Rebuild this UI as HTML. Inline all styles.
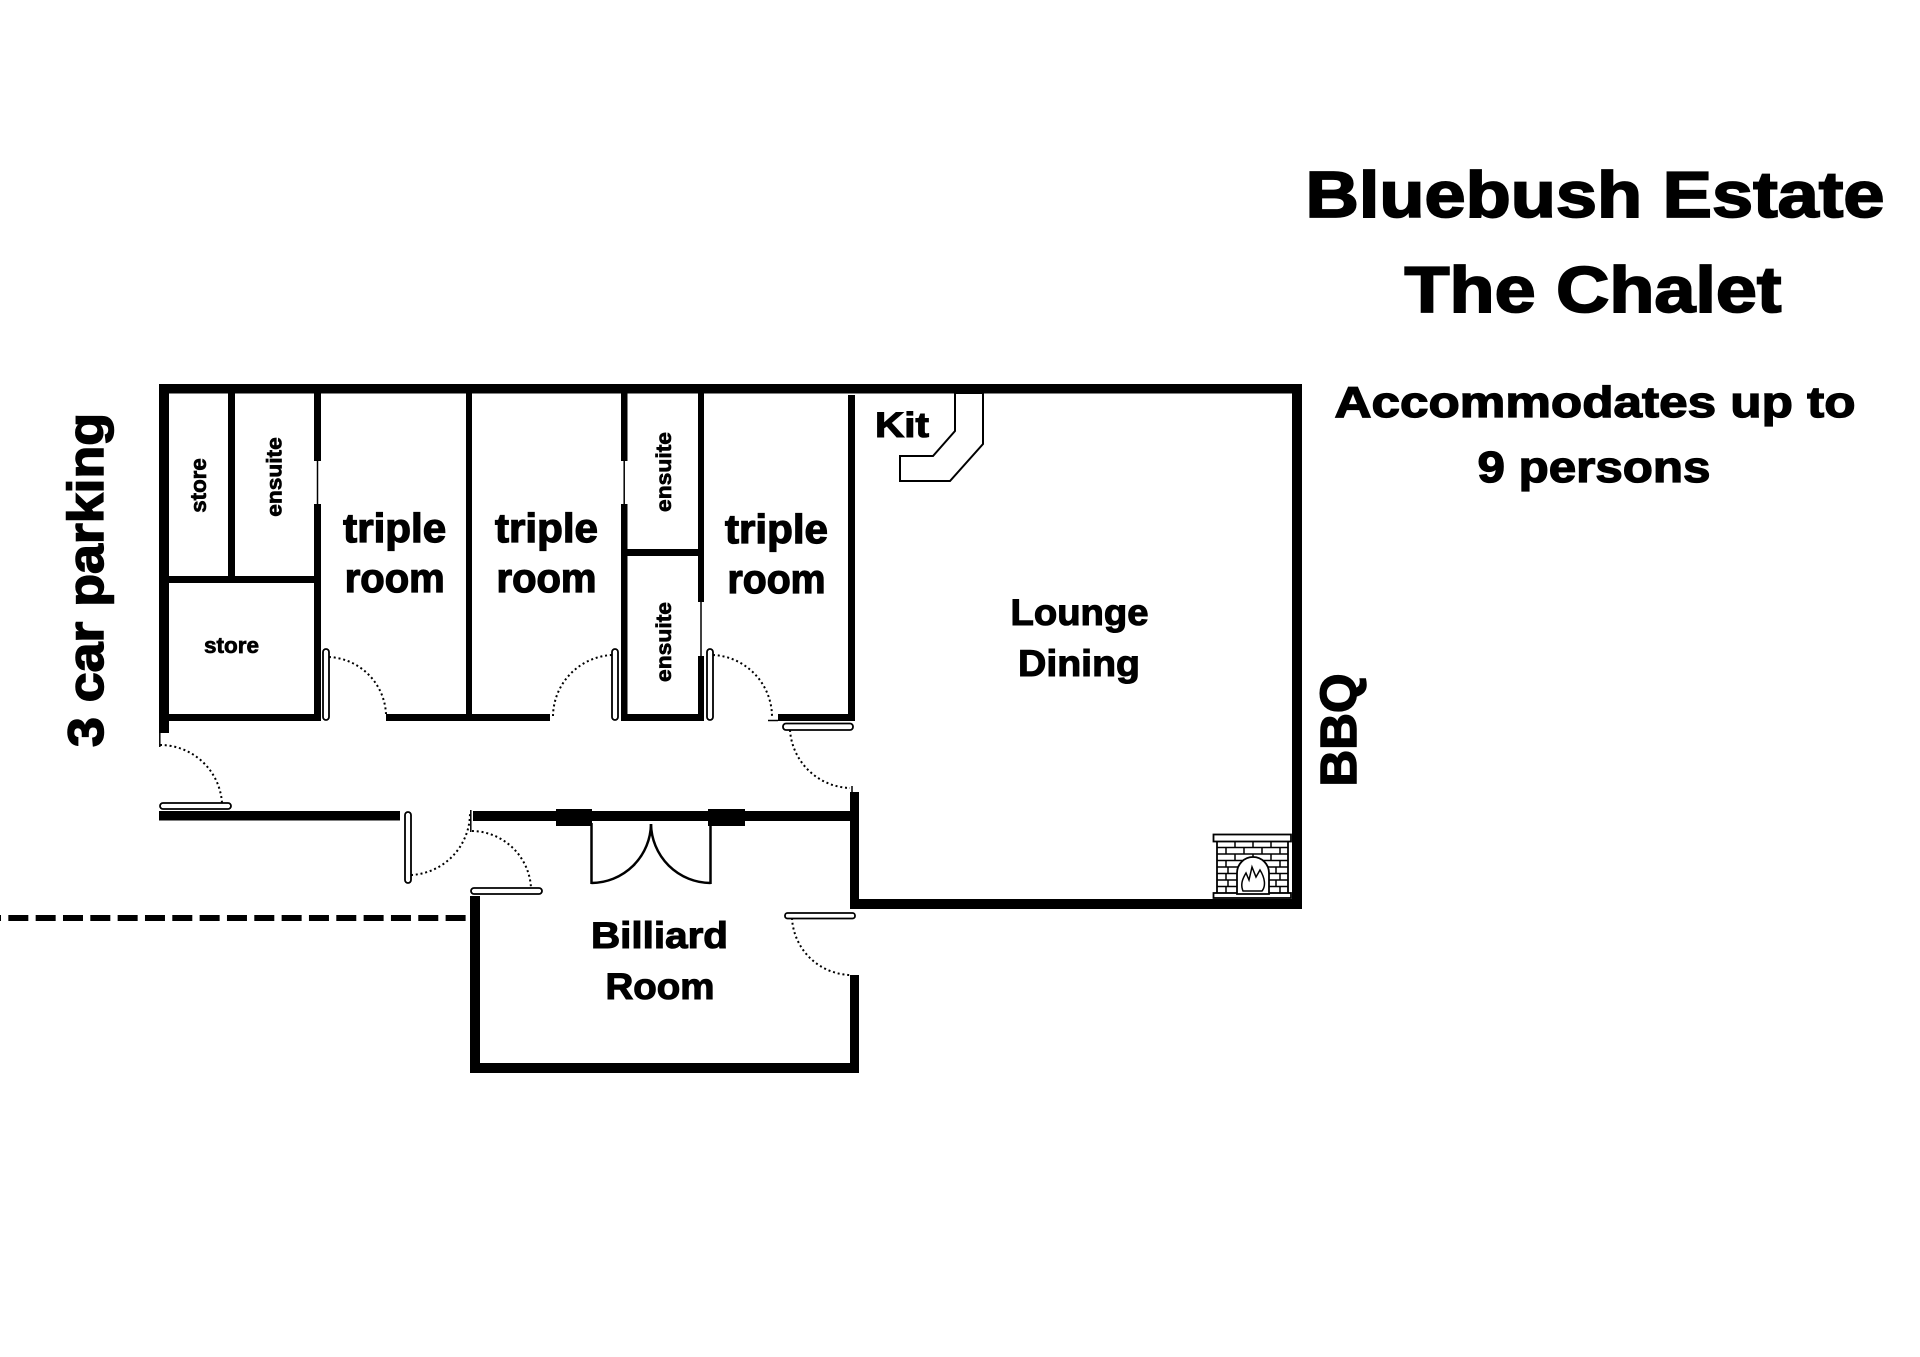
<!DOCTYPE html>
<html>
<head>
<meta charset="utf-8">
<style>
  html,body{margin:0;padding:0;background:#fff;}
  body{width:1920px;height:1357px;overflow:hidden;}
  svg{display:block;}
  text{font-family:"Liberation Sans", Arial, sans-serif;font-weight:bold;fill:#000;}
</style>
</head>
<body>
<svg width="1920" height="1357" viewBox="0 0 1920 1357" xmlns="http://www.w3.org/2000/svg">
  <rect x="0" y="0" width="1920" height="1357" fill="#fff"/>

  <!-- Titles -->
  <text x="1595" y="217" font-size="65" text-anchor="middle" textLength="579" lengthAdjust="spacingAndGlyphs" stroke="#000" stroke-width="1.8">Bluebush Estate</text>
  <text x="1593" y="312" font-size="65" text-anchor="middle" textLength="377" lengthAdjust="spacingAndGlyphs" stroke="#000" stroke-width="1.8">The Chalet</text>
  <text x="1595" y="417" font-size="44" text-anchor="middle" textLength="521" lengthAdjust="spacingAndGlyphs" stroke="#000" stroke-width="1.3">Accommodates up to</text>
  <text x="1594" y="482" font-size="44" text-anchor="middle" textLength="233" lengthAdjust="spacingAndGlyphs" stroke="#000" stroke-width="1.3">9 persons</text>

  <!-- Dashed line -->
  <line x1="-19" y1="918" x2="466" y2="918" stroke="#000" stroke-width="6" stroke-dasharray="20 7.33"/>

  <!-- Dotted door swings -->
  <g fill="none" stroke="#000" stroke-width="2" stroke-dasharray="2 2.8">
    <path d="M160,745 A62,62 0 0 1 222,803"/>
    <path d="M329,657 A60,60 0 0 1 386,714"/>
    <path d="M553,716 A62,62 0 0 1 612,655"/>
    <path d="M713,655 A62,62 0 0 1 772,716"/>
    <path d="M790,730 A62,62 0 0 0 850,788"/>
    <path d="M411,875 A62,62 0 0 0 470,813"/>
    <path d="M472,831 A60,60 0 0 1 531,888"/>
    <path d="M792,918 A60,60 0 0 0 850,975"/>
  </g>

  <!-- Walls -->
  <g fill="#000">
    <rect x="159" y="384" width="1143" height="9.5"/>
    <rect x="159" y="384" width="10" height="349"/>
    <rect x="1292" y="384" width="10" height="525"/>
    <rect x="850" y="899" width="452" height="10"/>
    <rect x="850" y="792" width="9" height="117"/>
    <rect x="848" y="395" width="7" height="326"/>

    <rect x="228" y="393" width="7" height="190"/>
    <rect x="169" y="576" width="152" height="7"/>
    <rect x="169" y="714" width="150" height="7"/>
    <rect x="314" y="393" width="7" height="68"/>
    <rect x="314" y="504" width="7" height="217"/>

    <rect x="386" y="714" width="164" height="7"/>
    <rect x="466" y="393" width="6" height="328"/>

    <rect x="621" y="393" width="6.5" height="68"/>
    <rect x="621" y="504" width="6.5" height="217"/>
    <rect x="627" y="549" width="71" height="7"/>
    <rect x="621" y="714" width="83" height="7"/>
    <rect x="698" y="393" width="6" height="209"/>
    <rect x="698" y="656" width="6" height="65"/>
    <rect x="778" y="714" width="76" height="7"/>

    <rect x="159" y="811" width="241" height="9.5"/>
    <rect x="473" y="811" width="386" height="10"/>
    <rect x="556" y="809" width="36" height="17"/>
    <rect x="708" y="809" width="37" height="17"/>

    <rect x="470" y="896" width="10" height="177"/>
    <rect x="470" y="1063" width="389" height="10"/>
    <rect x="850" y="975" width="9" height="98"/>
  </g>

  <!-- thin lines (windows / jambs) -->
  <g stroke="#000" stroke-width="1.5">
    <line x1="317.5" y1="461" x2="317.5" y2="504"/>
    <line x1="624.2" y1="461" x2="624.2" y2="504"/>
    <line x1="701" y1="602" x2="701" y2="656"/>
    <line x1="159.8" y1="733" x2="159.8" y2="747"/>
    <line x1="470.8" y1="810" x2="470.8" y2="832"/>
    <line x1="852" y1="786" x2="852" y2="794"/>
    <line x1="768" y1="720.5" x2="778" y2="720.5"/>
  </g>

  <!-- Door leaves / jambs -->
  <g fill="#fff" stroke="#000" stroke-width="1.8">
    <rect x="323" y="649" width="6" height="71" rx="3"/>
    <rect x="612" y="649" width="6" height="71" rx="3"/>
    <rect x="707" y="649" width="6" height="71" rx="3"/>
    <rect x="160" y="803" width="71" height="6" rx="3"/>
    <rect x="405" y="812" width="6" height="71" rx="3"/>
    <rect x="471" y="888" width="71" height="6" rx="3"/>
    <rect x="783" y="723.5" width="70" height="6.5" rx="3"/>
    <rect x="785" y="913" width="70" height="5.5" rx="2.5"/>
  </g>

  <!-- Double doors -->
  <g fill="none" stroke="#000" stroke-width="2.5">
    <line x1="591.5" y1="823" x2="591.5" y2="884"/>
    <line x1="710.5" y1="823" x2="710.5" y2="884"/>
    <path d="M591.5,883 A60,60 0 0 0 651,824"/>
    <path d="M710.5,883 A60,60 0 0 1 651,824"/>
  </g>

  <!-- Kitchen counter -->
  <polygon points="955,393 955,431 933,456 900,456 900,481 950,481 983,444 983,393" fill="#fff" stroke="#000" stroke-width="2"/>

  <!-- Fireplace -->
  <g stroke="#000" stroke-width="1.8" fill="#fff">
    <rect x="1217" y="841" width="71" height="53"/>
    <rect x="1213.5" y="834.5" width="77.5" height="7"/>
    <rect x="1213.5" y="893" width="77.5" height="5"/>
  </g>
  <g stroke="#000" stroke-width="1.5" fill="none">
    <line x1="1217" y1="847.5" x2="1288" y2="847.5"/>
    <line x1="1217" y1="854" x2="1288" y2="854"/>
    <line x1="1217" y1="860.5" x2="1288" y2="860.5"/>
    <line x1="1217" y1="867" x2="1288" y2="867"/>
    <line x1="1217" y1="873.5" x2="1288" y2="873.5"/>
    <line x1="1217" y1="880" x2="1288" y2="880"/>
    <line x1="1217" y1="886.5" x2="1288" y2="886.5"/>
    <path d="M1235,841v6.5M1253,841v6.5M1271,841v6.5
             M1226,847.5v6.5M1244,847.5v6.5M1262,847.5v6.5M1280,847.5v6.5
             M1235,854v6.5M1253,854v6.5M1271,854v6.5
             M1226,860.5v6.5M1280,860.5v6.5
             M1228,867v6.5M1276,867v6.5
             M1226,873.5v6.5M1280,873.5v6.5
             M1228,880v6.5M1276,880v6.5
             M1226,886.5v6.5M1280,886.5v6.5"/>
  </g>
  <path d="M1237,894 V873 A16,16 0 0 1 1269,873 V894 Z" fill="#fff" stroke="#000" stroke-width="1.8"/>
  <path d="M1243,891 C1240,884 1243,878 1246,873 L1249,880 L1252,867 L1256,877 L1260,870 C1265,878 1266,886 1262,891 Z" fill="#fff" stroke="#000" stroke-width="1.5"/>

  <!-- Labels -->
  <text x="394.7" y="542" font-size="41" text-anchor="middle" textLength="103" lengthAdjust="spacingAndGlyphs" stroke="#000" stroke-width="1.3">triple</text>
  <text x="394.7" y="592" font-size="41" text-anchor="middle" textLength="100" lengthAdjust="spacingAndGlyphs" stroke="#000" stroke-width="1.3">room</text>
  <text x="546.5" y="542" font-size="41" text-anchor="middle" textLength="103" lengthAdjust="spacingAndGlyphs" stroke="#000" stroke-width="1.3">triple</text>
  <text x="546.5" y="592" font-size="41" text-anchor="middle" textLength="100" lengthAdjust="spacingAndGlyphs" stroke="#000" stroke-width="1.3">room</text>
  <text x="776.5" y="543" font-size="41" text-anchor="middle" textLength="103" lengthAdjust="spacingAndGlyphs" stroke="#000" stroke-width="1.3">triple</text>
  <text x="776.5" y="593" font-size="41" text-anchor="middle" textLength="98" lengthAdjust="spacingAndGlyphs" stroke="#000" stroke-width="1.3">room</text>

  <text x="231.5" y="653" font-size="22" text-anchor="middle" textLength="55" lengthAdjust="spacingAndGlyphs" stroke="#000" stroke-width="0.7">store</text>
  <text transform="translate(206,485.5) rotate(-90)" x="0" y="0" font-size="22" text-anchor="middle" textLength="54.5" lengthAdjust="spacingAndGlyphs" stroke="#000" stroke-width="0.7">store</text>
  <text transform="translate(281.7,477) rotate(-90)" x="0" y="0" font-size="21.5" text-anchor="middle" textLength="79.5" lengthAdjust="spacingAndGlyphs" stroke="#000" stroke-width="0.7">ensuite</text>
  <text transform="translate(671,472) rotate(-90)" x="0" y="0" font-size="21.5" text-anchor="middle" textLength="80" lengthAdjust="spacingAndGlyphs" stroke="#000" stroke-width="0.7">ensuite</text>
  <text transform="translate(671,642) rotate(-90)" x="0" y="0" font-size="21.5" text-anchor="middle" textLength="80" lengthAdjust="spacingAndGlyphs" stroke="#000" stroke-width="0.7">ensuite</text>

  <text transform="translate(103,580) rotate(-90)" x="0" y="0" font-size="50" text-anchor="middle" textLength="334" lengthAdjust="spacingAndGlyphs" stroke="#000" stroke-width="1.5">3 car parking</text>
  <text transform="translate(1356,730) rotate(-90)" x="0" y="0" font-size="51" text-anchor="middle" textLength="113" lengthAdjust="spacingAndGlyphs" stroke="#000" stroke-width="1.5">BBQ</text>

  <text x="875" y="437" font-size="35" textLength="54" lengthAdjust="spacingAndGlyphs" stroke="#000" stroke-width="1.1">Kit</text>
  <text x="1079.5" y="625" font-size="37" text-anchor="middle" textLength="138" lengthAdjust="spacingAndGlyphs" stroke="#000" stroke-width="1.1">Lounge</text>
  <text x="1079" y="676" font-size="37" text-anchor="middle" textLength="122" lengthAdjust="spacingAndGlyphs" stroke="#000" stroke-width="1.1">Dining</text>
  <text x="659.5" y="948" font-size="37" text-anchor="middle" textLength="137" lengthAdjust="spacingAndGlyphs" stroke="#000" stroke-width="1.1">Billiard</text>
  <text x="660" y="999" font-size="37" text-anchor="middle" textLength="109" lengthAdjust="spacingAndGlyphs" stroke="#000" stroke-width="1.1">Room</text>
</svg>
</body>
</html>
